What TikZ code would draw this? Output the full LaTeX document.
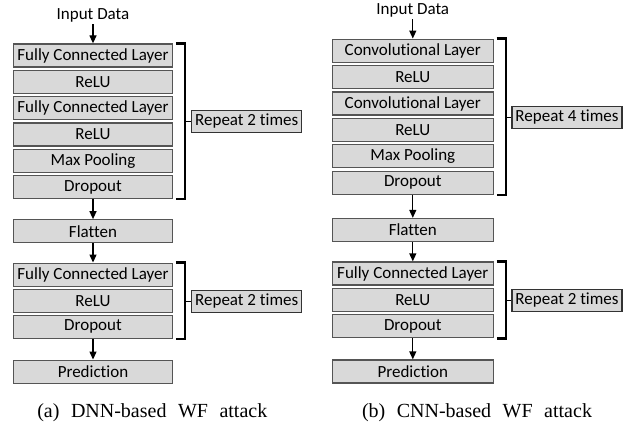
\documentclass[tikz,border=0pt]{standalone}
\usepackage{fontspec}
\setmainfont[Ligatures=NoCommon]{Carlito}
\newfontfamily\capfont{Liberation Serif}
\usetikzlibrary{arrows.meta,calc}
\definecolor{boxfill}{HTML}{D9D9D9}
\definecolor{boxedge}{HTML}{555555}
\begin{document}
\begin{tikzpicture}[x=1pt,y=-1pt,
  every node/.style={font=\fontsize{17}{20}\selectfont, inner sep=0pt},
  layer/.style={draw=boxedge, line width=1.3pt, fill=boxfill, minimum height=23pt, anchor=center},
  lbox/.style={layer, minimum width=159.5pt},
  rbox/.style={layer, minimum width=161pt},
  repbox/.style={draw=black!80, line width=1.2pt, fill=boxfill, minimum width=110pt, minimum height=22.5pt},
  flow/.style={line width=1.3pt, -{Triangle[length=8pt,width=7pt]}},
  brk/.style={line width=2.4pt, line cap=butt, line join=miter},
  tick/.style={line width=1.2pt},
  captxt/.style={font=\capfont\fontsize{20}{24}\selectfont}
  ]
\useasboundingbox (0,0) rectangle (639,428);

% ---------- left panel (a) ----------
\node (linput) at (93,15) {Input Data};
\node[lbox] (l1) at (93,55.5) {Fully Connected Layer};
\node[lbox] (l2) at (93,81.8) {ReLU};
\node[lbox] (l3) at (93,108.1) {Fully Connected Layer};
\node[lbox] (l4) at (93,134.4) {ReLU};
\node[lbox] (l5) at (93,160.7) {Max Pooling};
\node[lbox] (l6) at (93,187) {Dropout};
\node[lbox] (lflat) at (93,231.3) {Flatten};
\node[lbox] (l7) at (93,274.7) {Fully Connected Layer};
\node[lbox] (l8) at (93,300.8) {ReLU};
\node[lbox] (l9) at (93,326.9) {Dropout};
\node[lbox] (lpred) at (93,371.7) {Prediction};
\node[repbox] (lrep1) at (246.7,121.4) {Repeat 2 times};
\node[repbox] (lrep2) at (246.7,301.4) {Repeat 2 times};

\draw[flow] (linput.south) ++(0,2) coordinate (lin0) -- (l1.north);
\draw[flow] (l6.south) -- (lflat.north);
\draw[flow] (lflat.south) -- (l7.north);
\draw[flow] (l9.south) -- (lpred.north);

\coordinate (lbt1) at ([xshift=2.5pt]l1.north east);
\coordinate (lbb1) at ([xshift=2.5pt]l6.south east);
\coordinate (lbv1) at ($(lbt1)+(9,0)$);
\draw[brk] (lbt1) -- (lbv1) |- (lbb1);
\draw[tick] (lrep1.west) -- (lrep1.west -| lbv1);

\coordinate (lbt2) at ([xshift=2.5pt]l7.north east);
\coordinate (lbb2) at ([xshift=2.5pt]l9.south east);
\coordinate (lbv2) at ($(lbt2)+(9,0)$);
\draw[brk] (lbt2) -- (lbv2) |- (lbb2);
\draw[tick] (lrep2.west) -- (lrep2.west -| lbv2);

\node[captxt] (lcap) at (152.3,412.5) {\makebox[230pt][s]{(a) DNN-based WF attack}};

% ---------- right panel (b) ----------
\node (rinput) at (412.8,10) {Input Data};
\node[rbox] (r1) at (412.8,50.7) {Convolutional Layer};
\node[rbox] (r2) at (412.8,77.1) {ReLU};
\node[rbox] (r3) at (412.8,103.5) {Convolutional Layer};
\node[rbox] (r4) at (412.8,129.9) {ReLU};
\node[rbox] (r5) at (412.8,156.3) {Max Pooling};
\node[rbox] (r6) at (412.8,182.7) {Dropout};
\node[rbox] (rflat) at (412.8,230) {Flatten};
\node[rbox] (r7) at (412.8,273.5) {Fully Connected Layer};
\node[rbox] (r8) at (412.8,299.8) {ReLU};
\node[rbox] (r9) at (412.8,326.2) {Dropout};
\node[rbox] (rpred) at (412.8,371.5) {Prediction};
\node[repbox] (rrep1) at (567,117.5) {Repeat 4 times};
\node[repbox] (rrep2) at (567,300.5) {Repeat 2 times};

\draw[flow] (rinput.south) ++(0,2) coordinate (rin0) -- (r1.north);
\draw[flow] (r6.south) -- (rflat.north);
\draw[flow] (rflat.south) -- (r7.north);
\draw[flow] (r9.south) -- (rpred.north);

\coordinate (rbt1) at ([xshift=2.7pt]r1.north east);
\coordinate (rbb1) at ([xshift=2.7pt]r6.south east);
\coordinate (rbv1) at ($(rbt1)+(9.5,0)$);
\draw[brk] (rbt1) -- (rbv1) |- (rbb1);
\draw[tick] (rrep1.west) -- (rrep1.west -| rbv1);

\coordinate (rbt2) at ([xshift=2.7pt]r7.north east);
\coordinate (rbb2) at ([xshift=2.7pt]r9.south east);
\coordinate (rbv2) at ($(rbt2)+(9.5,0)$);
\draw[brk] (rbt2) -- (rbv2) |- (rbb2);
\draw[tick] (rrep2.west) -- (rrep2.west -| rbv2);

\node[captxt] (rcap) at (477,412.5) {\makebox[230pt][s]{(b) CNN-based WF attack}};
\end{tikzpicture}
\end{document}
